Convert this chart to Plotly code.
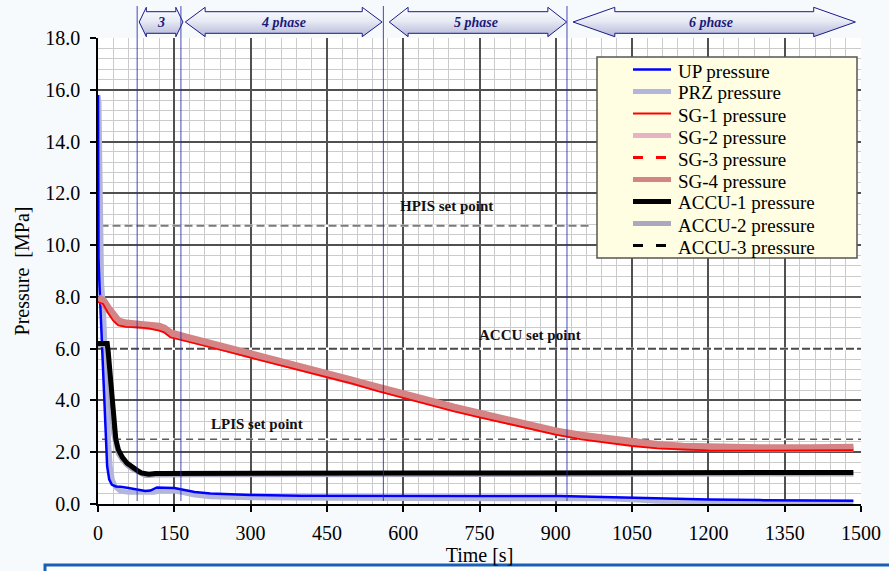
import plotly.graph_objects as go

# ---------------- geometry of the page ----------------
W, H = 889, 571
ML, MR, MT, MB = 98, 28, 5, 67
PLOT_TOP_PX = 38


def px_x(px):
    return (px - ML) / (W - ML - MR)


def px_y(py):
    return (H - MB - py) / (H - MT - MB)


MAIN_TOP = px_y(PLOT_TOP_PX)
FONT = "Liberation Serif, Times New Roman, serif"

# ---------------- data ----------------
T_UP = [0, 1, 3, 6, 10, 14, 18, 22, 27, 35, 44, 60, 77, 93, 103, 116, 130, 150, 165, 190,
        221, 250, 300, 400, 490, 600, 750, 909, 1000, 1050, 1100, 1200, 1300, 1400, 1485]
P_UP = [15.8, 9.5, 8.4, 7.0, 5.1, 3.2, 1.45, 0.95, 0.75, 0.68, 0.67, 0.62, 0.57, 0.50, 0.52, 0.64,
        0.63, 0.62, 0.56, 0.46, 0.41, 0.38, 0.35, 0.32, 0.31, 0.31, 0.31, 0.31, 0.27, 0.24, 0.20,
        0.17, 0.15, 0.14, 0.13]

T_PRZ = [0, 2, 3, 5, 7, 11, 14, 18, 21, 24, 28, 34, 44, 60, 93, 110, 122, 150, 165, 190, 221,
         300, 450, 600, 800, 1000, 1060, 1100, 1200, 1300, 1400, 1485]
P_PRZ = [15.8, 15.5, 14.0, 10.0, 8.6, 7.4, 5.5, 3.5, 2.3, 1.45, 0.95, 0.67, 0.50, 0.45, 0.42, 0.45,
         0.50, 0.50, 0.45, 0.35, 0.28, 0.24, 0.22, 0.22, 0.21, 0.20, 0.15, 0.11, 0.09, 0.08, 0.07, 0.07]

T_SG = [0, 10, 20, 30, 40, 55, 80, 100, 120, 130, 142, 170, 200, 250, 300, 350, 400, 450, 500,
        550, 600, 650, 700, 750, 800, 850, 900, 950, 1000, 1050, 1100, 1150, 1200, 1300, 1400, 1485]
P_SG1 = [7.80, 7.73, 7.38, 7.08, 6.90, 6.84, 6.82, 6.78, 6.70, 6.63, 6.44, 6.31, 6.16, 5.91, 5.65,
         5.40, 5.15, 4.90, 4.65, 4.36, 4.10, 3.84, 3.58, 3.35, 3.13, 2.91, 2.68, 2.50, 2.38, 2.24,
         2.15, 2.10, 2.07, 2.06, 2.06, 2.08]
P_SG2 = [7.96, 7.86, 7.57, 7.27, 7.07, 6.99, 6.96, 6.91, 6.86, 6.80, 6.62, 6.47, 6.32, 6.07, 5.81,
         5.57, 5.32, 5.07, 4.82, 4.52, 4.25, 4.00, 3.74, 3.50, 3.29, 3.07, 2.82, 2.66, 2.52, 2.40,
         2.30, 2.23, 2.19, 2.17, 2.17, 2.19]
P_SG3 = [7.90, 7.82, 7.50, 7.20, 7.01, 6.93, 6.91, 6.86, 6.80, 6.73, 6.55, 6.41, 6.26, 6.01, 5.75,
         5.50, 5.25, 5.00, 4.75, 4.46, 4.19, 3.94, 3.68, 3.44, 3.23, 3.01, 2.77, 2.60, 2.47, 2.34,
         2.24, 2.18, 2.14, 2.12, 2.12, 2.14]
P_SG4 = [7.95, 7.85, 7.55, 7.25, 7.05, 6.97, 6.95, 6.90, 6.85, 6.78, 6.60, 6.45, 6.30, 6.05, 5.79,
         5.55, 5.30, 5.05, 4.80, 4.50, 4.23, 3.98, 3.72, 3.48, 3.27, 3.05, 2.80, 2.64, 2.50, 2.38,
         2.28, 2.21, 2.17, 2.15, 2.15, 2.17]

T_ACCU = [0, 18, 20, 22, 24, 27, 31, 35, 40, 48, 57, 67, 77, 85, 93, 100, 113, 200, 400, 600,
          800, 1000, 1200, 1485]
P_ACCU1 = [6.20, 6.20, 5.90, 5.40, 4.90, 3.90, 3.10, 2.50, 2.10, 1.80, 1.58, 1.42, 1.30, 1.20,
           1.15, 1.15, 1.18, 1.19, 1.19, 1.20, 1.20, 1.21, 1.21, 1.22]
P_ACCU2 = [6.15, 6.15, 5.60, 4.90, 4.20, 3.40, 2.70, 2.25, 1.95, 1.70, 1.50, 1.36, 1.24, 1.15,
           1.10, 1.10, 1.12, 1.13, 1.13, 1.14, 1.14, 1.15, 1.15, 1.16]
P_ACCU3 = [6.20, 6.20, 5.85, 5.35, 4.85, 3.85, 3.05, 2.48, 2.08, 1.79, 1.57, 1.41, 1.29, 1.19,
           1.15, 1.15, 1.18, 1.19, 1.19, 1.20, 1.20, 1.21, 1.21, 1.22]

# set points: (label, pressure, t_start, t_end, label_t, label_p, colour, width, dash)
HPIS_SET = 10.75
ACCU_SET = 6.0
LPIS_SET = 2.5
SET_LINES = [
    ("HPIS set point", HPIS_SET, 5, 965, 686, 11.5, "#7a7a7a", 2, "8px,4px"),
    ("ACCU set point", ACCU_SET, 0, 1500, 850, 6.53, "#4a4a4a", 2, "8px,3px"),
    ("LPIS set point", LPIS_SET, 8, 1500, 312, 3.09, "#5a5a5a", 1.5, "7px,5px"),
]

# phase boundaries (s) and phase arrows: label, left tip, right tip, head length, text position
PHASE_LINES = [77, 163, 561, 922]
PHASE_ARROWS = [
    ("3", 81, 167, 14, 123),
    ("4 phase", 171.6, 558.5, 39, 364),
    ("5 phase", 572.6, 921.4, 37, 743),
    ("6 phase", 934, 1489, 82, 1206),
]

X_TICKS = list(range(0, 1501, 150))
Y_TICKS = [0, 2, 4, 6, 8, 10, 12, 14, 16, 18]

NAMES = ["UP pressure", "PRZ pressure", "SG-1 pressure", "SG-2 pressure", "SG-3 pressure",
         "SG-4 pressure", "ACCU-1 pressure", "ACCU-2 pressure", "ACCU-3 pressure"]
SERIES_T = [T_UP, T_PRZ, T_SG, T_SG, T_SG, T_SG, T_ACCU, T_ACCU, T_ACCU]
SERIES_P = [P_UP, P_PRZ, P_SG1, P_SG2, P_SG3, P_SG4, P_ACCU1, P_ACCU2, P_ACCU3]
STYLES = [
    dict(color="#0000ff", width=2.5, dash="solid"),
    dict(color="#b3b6dc", width=5, dash="solid"),
    dict(color="#ff0000", width=1.8, dash="solid"),
    dict(color="#e6b3c3", width=5, dash="solid"),
    dict(color="#ff0000", width=3, dash="10px,13px"),
    dict(color="#d48484", width=8, dash="solid"),
    dict(color="#000000", width=5, dash="solid"),
    dict(color="#a9a9c0", width=5, dash="solid"),
    dict(color="#000000", width=3, dash="10px,13px"),
]
DRAW_ORDER = [1, 0, 3, 4, 5, 2, 7, 6, 8]

fig = go.Figure()

for i in DRAW_ORDER:
    fig.add_trace(go.Scatter(x=SERIES_T[i], y=SERIES_P[i], mode="lines", name=NAMES[i],
                             line=STYLES[i], showlegend=False, hoverinfo="skip",
                             xaxis="x", yaxis="y"))

# phase arrows in the strip above the plot
Y_TIP, Y_BODY_T, Y_BODY_B, Y_HEAD_T, Y_HEAD_B = 16, 26.3, 4.7, 30.7, 1.3
for label, tl, tr, hl, tx in PHASE_ARROWS:
    xs = [tl, tl + hl, tl + hl, tr - hl, tr - hl, tr, tr - hl, tr - hl, tl + hl, tl + hl, tl]
    ys = [Y_TIP, Y_HEAD_T, Y_BODY_T, Y_BODY_T, Y_HEAD_T, Y_TIP, Y_HEAD_B, Y_BODY_B, Y_BODY_B,
          Y_HEAD_B, Y_TIP]
    fig.add_trace(go.Scatter(x=xs, y=ys, mode="lines", fill="toself",
                             line=dict(color="#1a1a8c", width=1),
                             fillgradient=dict(type="vertical",
                                               colorscale=[[0, "#b3b7d6"], [0.55, "#e9ebf5"], [1, "#ffffff"]]),
                             xaxis="x2", yaxis="y2", showlegend=False, hoverinfo="skip"))
    fig.add_annotation(x=tx, y=Y_TIP, xref="x2", yref="y2", showarrow=False,
                       text="<b><i>%s</i></b>" % label,
                       font=dict(family=FONT, size=14, color="#1a1a7a"))

shapes = []
# white plot background under grid
shapes.append(dict(type="rect", xref="x", yref="y", x0=0, x1=1500, y0=0, y1=18,
                   fillcolor="white", line=dict(width=0), layer="below"))
# set point lines + labels (white underlay so dash gaps read as white)
for label, p, t0, t1, lt, lp, col, wd, ds in SET_LINES:
    shapes.append(dict(type="line", xref="x", yref="y", x0=t0, x1=t1, y0=p, y1=p,
                       line=dict(color="white", width=wd + 0.5), layer="between"))
    shapes.append(dict(type="line", xref="x", yref="y", x0=t0, x1=t1, y0=p, y1=p,
                       line=dict(color=col, width=wd, dash=ds), layer="between"))
    fig.add_annotation(x=lt, y=lp, xref="x", yref="y", showarrow=False, text="<b>%s</b>" % label,
                       font=dict(family=FONT, size=15, color="#111111"))
# phase boundary lines
for t in PHASE_LINES:
    shapes.append(dict(type="line", xref="x", yref="paper", x0=t, x1=t, y0=px_y(501), y1=px_y(6),
                       line=dict(color="rgba(40,40,170,0.85)", width=1), layer="above"))

# manual legend box
shapes.append(dict(type="rect", xref="paper", yref="paper", x0=px_x(597), x1=px_x(857),
                   y0=px_y(258), y1=px_y(57), fillcolor="#fffee2",
                   line=dict(color="#555555", width=1.5), layer="above"))
for k in range(len(NAMES)):
    yl = 69.5 + 22 * k
    st = STYLES[k]
    shapes.append(dict(type="line", xref="paper", yref="paper", x0=px_x(633), x1=px_x(671),
                       y0=px_y(yl), y1=px_y(yl),
                       line=dict(color=st["color"], width=min(st["width"], 5),
                                 dash=st["dash"]), layer="above"))
    fig.add_annotation(x=px_x(676), y=px_y(yl + 1.5), xref="paper", yref="paper", showarrow=False,
                       xanchor="left", yanchor="middle", text=NAMES[k],
                       font=dict(family=FONT, size=19, color="black"))

# blue slide frame at the bottom
shapes.append(dict(type="rect", xref="paper", yref="paper", x0=px_x(45), x1=px_x(900),
                   y0=px_y(610), y1=px_y(565), fillcolor="#fbfdff",
                   line=dict(color="#1a5fb4", width=3), layer="above"))

fig.update_layout(shapes=shapes)

axis_common = dict(showline=True, linecolor="black", linewidth=1.5, ticks="outside", ticklen=6,
                   tickwidth=1.5, tickcolor="black", zeroline=False, showgrid=True,
                   gridcolor="#505050", gridwidth=1.5, automargin=False,
                   tickfont=dict(family=FONT, size=20, color="black"))

fig.update_layout(
    width=W, height=H,
    margin=dict(l=ML, r=MR, t=MT, b=MB, autoexpand=False),
    paper_bgcolor="#f6fafd",
    plot_bgcolor="#f6fafd",
    showlegend=False,
    xaxis=dict(range=[0, 1500], tickvals=X_TICKS, domain=[0, 1], anchor="y",
               minor=dict(dtick=30, tick0=0, showgrid=True, gridcolor="#cbcbcb", gridwidth=1.2),
               title=dict(text="Time [s]", font=dict(family=FONT, size=20, color="black"), standoff=2),
               ticklabelstandoff=4, **axis_common),
    yaxis=dict(range=[0, 18], tickvals=Y_TICKS, tickformat=".1f", domain=[0, MAIN_TOP], anchor="x",
               minor=dict(dtick=0.4, tick0=0, showgrid=True, gridcolor="#cbcbcb", gridwidth=1.2),
               title=dict(text="Pressure\u00a0 [MPa]", font=dict(family=FONT, size=20, color="black"),
                          standoff=10),
               ticklabelstandoff=6, **axis_common),
    xaxis2=dict(range=[0, 1500], domain=[0, 1], anchor="y2", visible=False, showgrid=False,
                automargin=False),
    yaxis2=dict(range=[0, 33], domain=[MAIN_TOP, 1], anchor="x2", visible=False, showgrid=False,
                automargin=False),
)

fig.write_html("out.html")
